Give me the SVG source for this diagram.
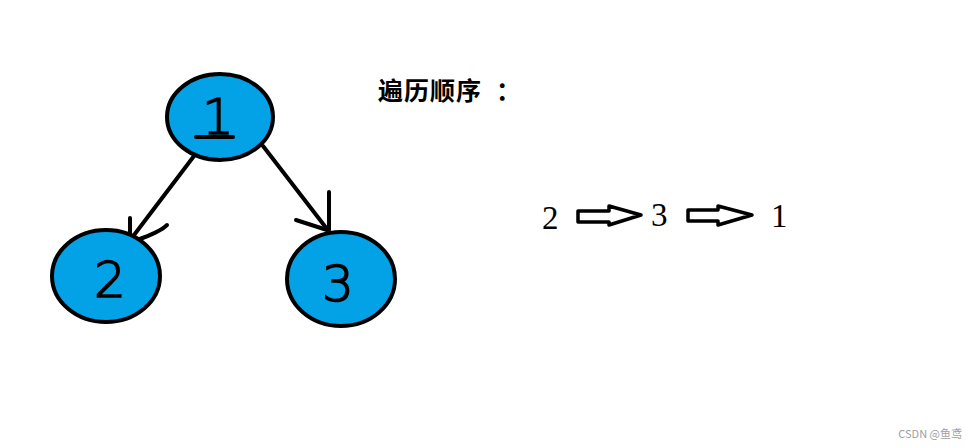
<svg xmlns="http://www.w3.org/2000/svg" width="979" height="448" viewBox="0 0 979 448">
<style>
.node{fill:#03A2E6;stroke:#000;stroke-width:4}
.digit{font-family:"DejaVu Sans",sans-serif;font-size:50px;font-weight:300;fill:#000;stroke:#000;stroke-width:1.6;text-anchor:middle}
.edge{stroke:#000;stroke-width:4;fill:none;stroke-linecap:round}
.seq{font-family:"Liberation Serif",serif;font-size:33px;fill:#000}
.harrow{fill:#fff;stroke:#000;stroke-width:3.5;stroke-linejoin:round}
</style>
<rect width="979" height="448" fill="#fff"/>
<g id="connectors">
<path class="edge" d="M194,156 L131,239"/>
<path class="edge" d="M130,218 L130,240"/>
<path class="edge" d="M167,225 Q160,232 137,240"/>
<path class="edge" d="M263,146 L327,229"/>
<path class="edge" d="M329,192 L329,230"/>
<path class="edge" d="M296,220 L327,230"/>
</g>
<g id="node1">
<ellipse class="node" cx="220" cy="117" rx="53" ry="43"/>
<text class="digit" x="218" y="134">1</text>
<path class="edge" d="M196,137 L233,137" stroke-width="3"/>
</g>
<g id="node2">
<ellipse class="node" cx="106" cy="276" rx="54" ry="46"/>
<text class="digit" x="110" y="297">2</text>
</g>
<g id="node3">
<ellipse class="node" cx="341" cy="279" rx="54" ry="47"/>
<text class="digit" x="338" y="301">3</text>
</g>
<g id="title">
<text x="378" y="100" font-family="'Noto Sans CJK SC',sans-serif" font-size="25" font-weight="bold" fill="#000" letter-spacing="1">遍历顺序<tspan dx="14">：</tspan></text>
</g>
<g id="sequence">
<text class="seq" x="542" y="229">2</text>
<path class="harrow" d="M578,211 L609,211 L609,206 L641,215 L609,225 L609,222 L578,222 Z"/>
<text class="seq" x="651" y="226">3</text>
<path class="harrow" d="M688,210 L718,210 L718,206 L752,215 L718,225 L718,221 L688,221 Z"/>
<text class="seq" x="771" y="227">1</text>
</g>
<text x="962" y="438" text-anchor="end" font-family="'Noto Sans CJK SC',sans-serif" font-size="11" fill="#a0a0a0">CSDN @鱼鸢</text>
</svg>
